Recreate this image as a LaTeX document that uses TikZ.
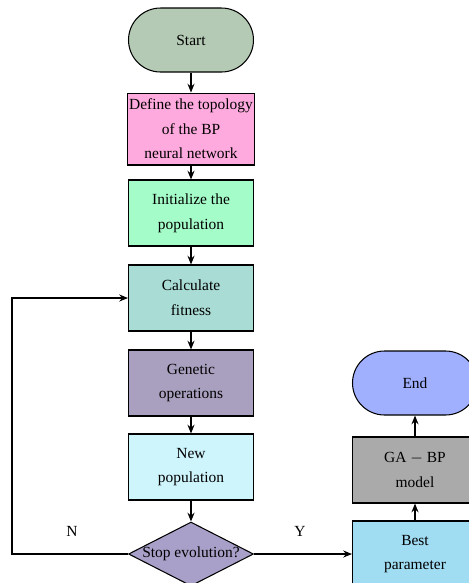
\documentclass[tikz,border=0pt]{standalone}
\usepackage{fontspec}
\setmainfont{Liberation Serif}
\usetikzlibrary{shapes.geometric,arrows.meta}

\definecolor{cstart}{RGB}{180,202,180}
\definecolor{cdefine}{RGB}{255,170,222}
\definecolor{cinit}{RGB}{164,252,200}
\definecolor{ccalc}{RGB}{168,220,212}
\definecolor{cgen}{RGB}{168,160,190}
\definecolor{cnew}{RGB}{206,244,252}
\definecolor{cstop}{RGB}{168,160,200}
\definecolor{cbest}{RGB}{160,220,242}
\definecolor{cgabp}{RGB}{170,170,170}
\definecolor{cend}{RGB}{160,176,255}

\begin{document}
\begin{tikzpicture}[
    x=0.02cm, y=-0.02cm,
    box/.style={draw, line width=0.6pt, minimum width=2.5cm,
                minimum height=1.32cm, inner xsep=1pt, align=center,
                font=\fontsize{8.8}{14}\selectfont},
    term/.style={box, rounded corners=0.64cm, minimum height=1.28cm},
    cond/.style={draw, line width=0.6pt, diamond, inner sep=0pt,
                 minimum width=2.5cm, minimum height=1.28cm},
    arr/.style={-{Stealth[length=5pt,width=4pt]}, line width=0.6pt}
  ]
    \useasboundingbox (0,0) rectangle (469,583);
    \clip (0,0) rectangle (469,583);

    \node[term, fill=cstart]  (start) at (191,40)  {Start};
    \node[box, fill=cdefine]  (topo)  at (191,129) {Define the topology\\of the BP\\neural network};
    \node[box, fill=cinit]    (init)  at (191,213) {Initialize the\\population};
    \node[box, fill=ccalc]    (calc)  at (191,298) {Calculate\\fitness};
    \node[box, fill=cgen]     (gen)   at (191,383) {Genetic\\operations};
    \node[box, fill=cnew]     (newp)  at (191,467) {New\\population};
    \node[cond, fill=cstop, label={[font=\fontsize{8.8}{14}\selectfont]center:Stop evolution?}] (stop) at (191,554) {};

    \node[box, fill=cbest]    (best)  at (415,554) {Best\\parameter};
    \node[box, fill=cgabp]    (gabp)  at (415,470) {GA $-$ BP\\model};
    \node[term, fill=cend]    (end)   at (415,383) {End};

    \node[font=\fontsize{8.8}{14}\selectfont] (nlab) at (72,531)  {N};
    \node[font=\fontsize{8.8}{14}\selectfont] (ylab) at (300,531) {Y};

    \draw[arr] (start) -- (topo);
    \draw[arr] (topo)  -- (init);
    \draw[arr] (init)  -- (calc);
    \draw[arr] (calc)  -- (gen);
    \draw[arr] (gen)   -- (newp);
    \draw[arr] (newp)  -- (stop);
    \draw[arr] (stop.west) -- ++(-116,0) |- (calc.west);
    \draw[arr] (stop.east) -- (best.west);
    \draw[arr] (best) -- (gabp);
    \draw[arr] (gabp) -- (end);
  \end{tikzpicture}
\end{document}
